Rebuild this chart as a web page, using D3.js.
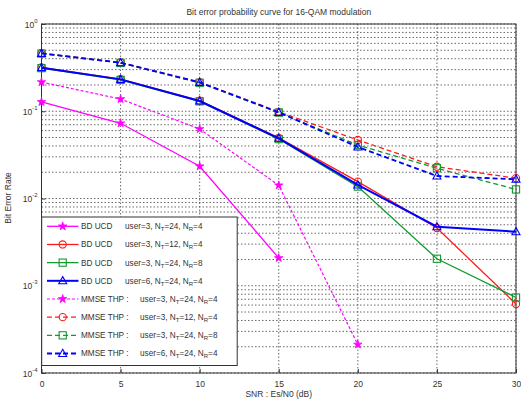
<!DOCTYPE html>
<html><head><meta charset="utf-8">
<script src="https://cdn.jsdelivr.net/npm/d3@7"></script>
<style>
body{margin:0;background:#fff;}
svg text{font-family:"Liberation Sans",Arial,sans-serif;fill:#333;}
</style></head>
<body><svg id="c" width="521" height="403"></svg>
<script>
const snr = [0, 5, 10, 15, 20, 25, 30];
const xTicks = [0, 5, 10, 15, 20, 25, 30];
const yTickExps = [0, -1, -2, -3, -4];

const bdU3T24R4   = [0.1277, 0.0728, 0.0234, 0.00208, null, null, null];
const bdU3T12R4   = [0.318, 0.233, 0.132, 0.0495, 0.0156, 0.00459, 0.000618];
const bdU3T24R8   = [0.312, 0.229, 0.130, 0.0480, 0.0137, 0.00204, 0.000733];
const bdU6T24R4   = [0.316, 0.232, 0.131, 0.0490, 0.0143, 0.00475, 0.00416];
const mmseU3T24R4 = [0.216, 0.138, 0.0626, 0.01416, 0.000212, null, null];
const mmseU3T12R4 = [0.463, 0.362, 0.216, 0.0985, 0.0468, 0.0231, 0.0171];
const mmseU3T24R8 = [0.458, 0.358, 0.212, 0.0965, 0.0410, 0.0222, 0.0127];
const mmseU6T24R4 = [0.461, 0.360, 0.214, 0.0972, 0.0389, 0.0181, 0.0166];

const labelsMethod = ["BD UCD","BD UCD","BD UCD","BD UCD","MMSE THP","MMSE THP","MMSE THP","MMSE THP"];
const labelsUser = ["3","3","3","6","3","3","3","6"];
const labelsNT = ["24","12","24","24","24","12","24","24"];
const labelsNR = ["4","4","8","4","4","4","8","4"];
const seriesValues = [bdU3T24R4, bdU3T12R4, bdU3T24R8, bdU6T24R4, mmseU3T24R4, mmseU3T12R4, mmseU3T24R8, mmseU6T24R4];

const colors = ["#ff00ff","#ff1a1a","#119a2e","#0000ff","#ff00ff","#ff1a1a","#119a2e","#0000ff"];
const markers = ["star","circle","square","triangle","star","circle","square","triangle"];
const dashed = [false,false,false,false,true,true,true,true];
const widths = [1.3,1.3,1.3,2,1.2,1.3,1.3,1.8];

const svg = d3.select("#c");
const L = 41.5, R = 516, T = 24, B = 373;
const x = d3.scaleLinear().domain([0,30]).range([L,R]);
const y = d3.scaleLog().domain([1e-4,1]).range([B,T]);

// grid
const g = svg.append("g");
const minorVals = [];
for (let e=-4; e<0; e++) for (let m=1; m<10; m++) minorVals.push(m*Math.pow(10,e));
minorVals.push(1);
g.selectAll("line.hg").data(minorVals).join("line")
  .attr("x1",L).attr("x2",R).attr("y1",d=>y(d)).attr("y2",d=>y(d))
  .attr("stroke","#444").attr("stroke-width",0.8).attr("stroke-dasharray","1.5,2");
g.selectAll("line.vg").data(xTicks).join("line")
  .attr("y1",T).attr("y2",B).attr("x1",d=>x(d)).attr("x2",d=>x(d))
  .attr("stroke","#444").attr("stroke-width",0.8).attr("stroke-dasharray","1.5,2");

// axes box
svg.append("rect").attr("x",L).attr("y",T).attr("width",R-L).attr("height",B-T)
  .attr("fill","none").attr("stroke","#333").attr("stroke-width",1);

// ticks via d3 axes
const xAxis = svg.append("g").attr("transform",`translate(0,${B})`)
  .call(d3.axisBottom(x).tickValues(xTicks).tickSize(-4).tickPadding(8).tickFormat(d3.format("d")));
xAxis.select(".domain").remove();
xAxis.selectAll("line").attr("stroke","#333");
xAxis.selectAll("text").attr("font-size",8.5).attr("fill","#333").style("font-family","Liberation Sans, Arial, sans-serif");

const yAxis = svg.append("g").attr("transform",`translate(${L},0)`)
  .call(d3.axisLeft(y).tickValues(yTickExps.map(e=>Math.pow(10,e))).tickSize(-4).tickFormat(""));
yAxis.select(".domain").remove();
yAxis.selectAll("line").attr("stroke","#333");
yAxis.selectAll(".tick").each(function(d){
  const t = d3.select(this).append("text").attr("x",-4).attr("y",3).attr("text-anchor","end")
    .attr("font-size",8.5).attr("fill","#333");
  t.append("tspan").text("10");
  t.append("tspan").attr("dy",-5).attr("font-size",6).text(String(Math.round(Math.log10(d))));
});

// title / labels
svg.append("text").attr("x",(L+R)/2).attr("y",15).attr("text-anchor","middle")
  .attr("font-size",8.5).text("Bit error probability curve for 16-QAM modulation");
svg.append("text").attr("x",(L+R)/2).attr("y",397).attr("text-anchor","middle")
  .attr("font-size",8.5).text("SNR : Es/N0 (dB)");
svg.append("text").attr("transform","translate(11,198) rotate(-90)").attr("text-anchor","middle")
  .attr("font-size",8.5).text("Bit Error Rate");

// markers
function drawMarker(sel, type, color, cx, cy){
  const s = 3.6;
  if (type==="circle") sel.append("circle").attr("cx",cx).attr("cy",cy).attr("r",s).attr("fill","none").attr("stroke",color).attr("stroke-width",1.1);
  else if (type==="square") sel.append("rect").attr("x",cx-s).attr("y",cy-s).attr("width",2*s).attr("height",2*s).attr("fill","none").attr("stroke",color).attr("stroke-width",1.1);
  else if (type==="triangle") sel.append("path").attr("d",`M${cx},${cy-s-0.6}L${cx+s+0.4},${cy+s-0.6}L${cx-s-0.4},${cy+s-0.6}Z`).attr("fill","none").attr("stroke",color).attr("stroke-width",1.1);
  else if (type==="star") sel.append("path").attr("d", d3.symbol(d3.symbolStar, 22)()).attr("transform",`translate(${cx},${cy})`).attr("fill",color).attr("stroke",color).attr("stroke-width",0.8);
}

const lineGen = d3.line().defined(d=>d[1]!=null).x(d=>x(d[0])).y(d=>y(d[1]));
seriesValues.forEach((vals,i)=>{
  const pts = snr.map((s,j)=>[s, vals[j]]);
  const sg = svg.append("g");
  sg.append("path").attr("d",lineGen(pts)).attr("fill","none").attr("stroke",colors[i])
    .attr("stroke-width",widths[i]).attr("stroke-dasharray",dashed[i]? (i===4?"3,2":"5,3") : null);
  pts.filter(d=>d[1]!=null).forEach(d=>drawMarker(sg, markers[i], colors[i], x(d[0]), y(d[1])));
});

// legend
const lg = svg.append("g");
const LX = 41.7, LY = 217, LW = 195.5, LH = 148.5;
lg.append("rect").attr("x",LX).attr("y",LY).attr("width",LW).attr("height",LH)
  .attr("fill","#fff").attr("stroke","#333").attr("stroke-width",1);
const rowY = i => 226.3 + i*18.17;
seriesValues.forEach((vals,i)=>{
  const yy = rowY(i);
  lg.append("line").attr("x1",47).attr("x2",78.5).attr("y1",yy).attr("y2",yy)
    .attr("stroke",colors[i]).attr("stroke-width",widths[i])
    .attr("stroke-dasharray",dashed[i]? (i===4?"3,2":"5,3") : null);
  drawMarker(lg, markers[i], colors[i], 62.7, yy);
  const t = lg.append("text").attr("x",81).attr("y",yy+3).attr("font-size",8.2).attr("fill","#333");
  t.append("tspan").text(labelsMethod[i] + (dashed[i] ? " : " : ""));
  const t2 = lg.append("text").attr("x",dashed[i]?140:125).attr("y",yy+3).attr("font-size",8.2).attr("fill","#333");
  t2.append("tspan").text(`user=${labelsUser[i]}, N`);
  t2.append("tspan").attr("dy",2).attr("font-size",6).text("T");
  t2.append("tspan").attr("dy",-2).text(`=${labelsNT[i]}, N`);
  t2.append("tspan").attr("dy",2).attr("font-size",6).text("R");
  t2.append("tspan").attr("dy",-2).text(`=${labelsNR[i]}`);
});
</script></body></html>
